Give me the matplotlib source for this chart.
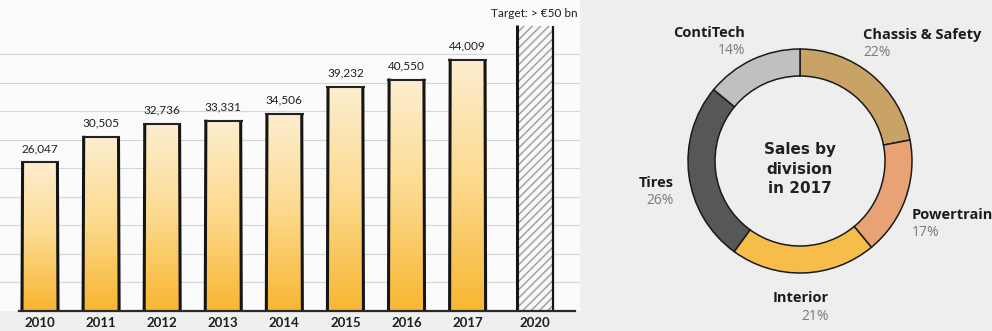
import matplotlib.pyplot as plt
import numpy as np
from matplotlib.patches import Rectangle
from matplotlib.colors import LinearSegmentedColormap

# sales in EUR million
years = ['2010', '2011', '2012', '2013', '2014', '2015', '2016', '2017']
sales = [26047, 30505, 32736, 33331, 34506, 39232, 40550, 44009]
target_year = '2020'
target_value = 50000
target_label = 'Target: > €50 bn'

divisions = ['Chassis & Safety', 'Powertrain', 'Interior', 'Tires', 'ContiTech']
shares = [22, 17, 21, 26, 14]
div_colors = ['#c9a366', '#e9a276', '#f6bd4a', '#575757', '#c0c0c0']

W, H = 992, 331
fig = plt.figure(figsize=(W / 100, H / 100), dpi=100, facecolor='#efefef')

# ---------------- bar chart ----------------
ax = fig.add_axes([0, 20 / H, 580 / W, 311 / H])
ax.set_facecolor('#fbfbfb')
x = np.arange(len(years))
x_target = len(years) + 0.1
width = 0.59

ax.set_xlim(-0.655, 8.84)
ax.set_ylim(0, 54500)
for s in ax.spines.values():
    s.set_visible(False)
ax.set_xticks([])
ax.set_yticks([])

for g in range(5000, 50000, 5000):
    ax.axhline(g, color='#d6d6d6', lw=0.8, zorder=0)

# orange gradient fill for the bars
grad = np.linspace(0, 1, 256).reshape(-1, 1)
cmap = LinearSegmentedColormap.from_list('bar', ['#f8b631', '#fcd98c', '#fdeed0'])
for xi, yr, v in zip(x, years, sales):
    rect = Rectangle((xi - width / 2, 0), width, v, facecolor='none', edgecolor='none')
    ax.add_patch(rect)
    im = ax.imshow(grad, cmap=cmap, aspect='auto', origin='lower',
                   extent=(xi - width / 2, xi + width / 2, 0, v), zorder=1)
    im.set_clip_path(rect)
    # sketchy black outline
    ax.plot([xi - width / 2, xi - width / 2 + 0.01], [-300, v + 200], color='#151515',
            lw=2.2, zorder=3, solid_capstyle='butt')
    ax.plot([xi + width / 2, xi + width / 2 - 0.01], [-300, v + 150], color='#151515',
            lw=2.2, zorder=3, solid_capstyle='butt')
    ax.plot([xi - width / 2 - 0.02, xi + width / 2 + 0.02], [v, v], color='#222222',
            lw=1.5, zorder=3, solid_capstyle='butt')
    ax.annotate(f'{v:,}', (xi, v), xytext=(0, 6), textcoords='offset points',
                ha='center', va='bottom', fontsize=8.5, color='#1e1e1e', family='Lato')
    ax.annotate(yr, (xi, 0), xytext=(0, -4), textcoords='offset points',
                ha='center', va='top', fontsize=9.5, fontweight='bold', color='#1e1e1e',
                family='Lato', annotation_clip=False)

# hatched target bar
ax.bar(x_target, target_value, width, facecolor='#f7f7f7', edgecolor='#9a9a9a',
       hatch='////', lw=0, zorder=1)
ax.plot([x_target - width / 2] * 2, [-300, target_value + 200], color='#151515',
        lw=2.2, zorder=3, solid_capstyle='butt')
ax.plot([x_target + width / 2] * 2, [-300, target_value], color='#151515',
        lw=1.6, zorder=3, solid_capstyle='butt')
ax.annotate(target_label, (x_target, target_value), xytext=(0, 5), textcoords='offset points',
            ha='center', va='bottom', fontsize=8.5, color='#1e1e1e', family='Lato')
ax.annotate(target_year, (x_target, 0), xytext=(0, -4), textcoords='offset points',
            ha='center', va='top', fontsize=9.5, fontweight='bold', color='#1e1e1e',
            family='Lato', annotation_clip=False)

# baseline
ax.plot([-0.35, 8.75], [0, 0], color='#2a2a2a', lw=1.6, zorder=4, clip_on=False)

# ---------------- donut ----------------
ax2 = fig.add_axes([598 / W, 0, (W - 598) / W, 1])
ax2.set_facecolor('#eeeeee')
cx, cy = 800, 170
ax2.pie(shares, colors=div_colors, startangle=90, counterclock=False,
        center=(cx, cy), radius=112,
        wedgeprops=dict(width=27, edgecolor='#1a1a1a', linewidth=1.1))
ax2.set_xlim(598, W)
ax2.set_ylim(0, H)
ax2.set_aspect('equal')
ax2.set_frame_on(True)
for s in ax2.spines.values():
    s.set_visible(False)

ax2.text(cx, cy - 8, 'Sales by\ndivision\nin 2017', ha='center', va='center',
         fontsize=11, fontweight='bold', color='#222222', linespacing=1.35,
         family='DejaVu Sans')

# label positions in pixel coordinates: (x, y, alignment)
label_pos = [(863, 296, 'left'), (912, 116, 'left'), (829, 33, 'right'),
             (674, 148, 'right'), (745, 298, 'right')]
for name, pct, (lx, ly, al) in zip(divisions, shares, label_pos):
    ax2.text(lx, ly, name, ha=al, va='center', fontsize=10.5, fontweight='bold',
             color='#1c1c1c', family='Open Sans')
    ax2.text(lx, ly - 18, f'{pct}%', ha=al, va='center', fontsize=10,
             color='#7a7a7a', family='Open Sans')

fig.savefig('out.png', dpi=100, facecolor=fig.get_facecolor())
